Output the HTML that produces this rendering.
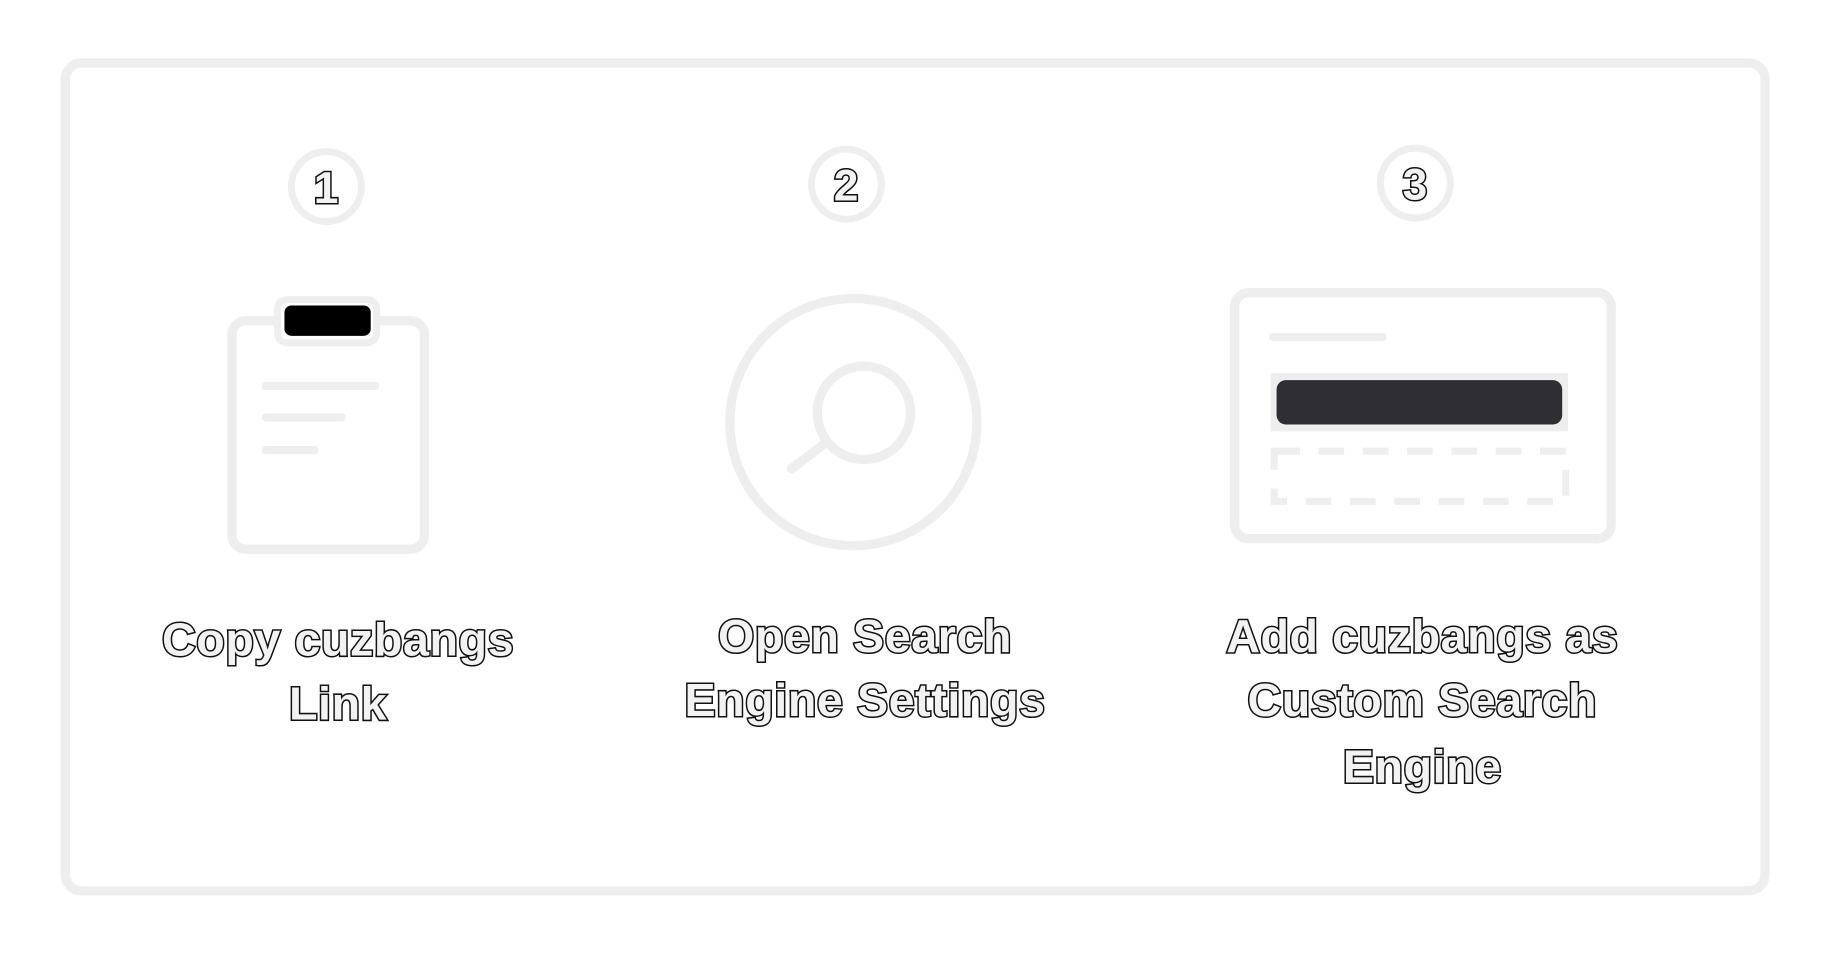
<!DOCTYPE html>
<html><head><style>
html,body{margin:0;padding:0;background:#fff;width:1828px;height:955px;overflow:hidden}
svg{display:block}
text{font-family:"Liberation Sans",sans-serif;font-weight:bold;fill:#f2f2f2;stroke:#111;stroke-width:2.6px;paint-order:stroke;text-anchor:middle;letter-spacing:0.5px}
</style></head><body>
<svg width="1828" height="955" viewBox="0 0 1568 819" preserveAspectRatio="none">
<rect x="56" y="54" width="1458" height="710" rx="14" fill="#fff" stroke="#eeeeee" stroke-width="8"/>
<g fill="#fff" stroke="#eeeeee" stroke-width="6">
<circle cx="280" cy="160" r="30"/><circle cx="726" cy="158" r="30"/><circle cx="1214" cy="157" r="30"/>
</g>
<text x="280" y="174" font-size="38">1</text>
<text x="726" y="172" font-size="38">2</text>
<text x="1214" y="171" font-size="38">3</text>
<rect x="199" y="275" width="165" height="196" rx="12" fill="#fff" stroke="#eeeeee" stroke-width="8"/>
<rect x="238" y="257" width="85" height="37" rx="8" fill="#fff" stroke="#eeeeee" stroke-width="6"/>
<rect x="244" y="262" width="74" height="26" rx="6" fill="#000"/>
<g stroke="#eeeeee" stroke-width="7" stroke-linecap="round">
<line x1="228" y1="331" x2="322" y2="331"/><line x1="228" y1="358" x2="293" y2="358"/><line x1="228" y1="386" x2="270" y2="386"/>
</g>
<circle cx="732" cy="362" r="106" fill="none" stroke="#eeeeee" stroke-width="8"/>
<circle cx="741" cy="354" r="40" fill="none" stroke="#eeeeee" stroke-width="8"/>
<line x1="708" y1="380" x2="679" y2="402" stroke="#eeeeee" stroke-width="8" stroke-linecap="round"/>
<rect x="1059" y="251" width="323" height="211" rx="12" fill="#fff" stroke="#eeeeee" stroke-width="8"/>
<line x1="1092" y1="289" x2="1186" y2="289" stroke="#eeeeee" stroke-width="7" stroke-linecap="round"/>
<rect x="1090" y="320" width="255" height="50" fill="#eeeeee"/>
<rect x="1095" y="326" width="245" height="38" rx="8" fill="#2e2e33"/>
<rect x="1093" y="387" width="250" height="43" fill="none" stroke="#eeeeee" stroke-width="6" stroke-dasharray="22,16"/>
<text x="290" y="562" font-size="40">Copy cuzbangs</text>
<text x="290" y="617" font-size="40">Link</text>
<text x="742" y="559" font-size="40">Open Search</text>
<text x="742" y="614" font-size="40">Engine Settings</text>
<text x="1220" y="559" font-size="40">Add cuzbangs as</text>
<text x="1220" y="614" font-size="40">Custom Search</text>
<text x="1220" y="671" font-size="40">Engine</text>
</svg>
</body></html>
